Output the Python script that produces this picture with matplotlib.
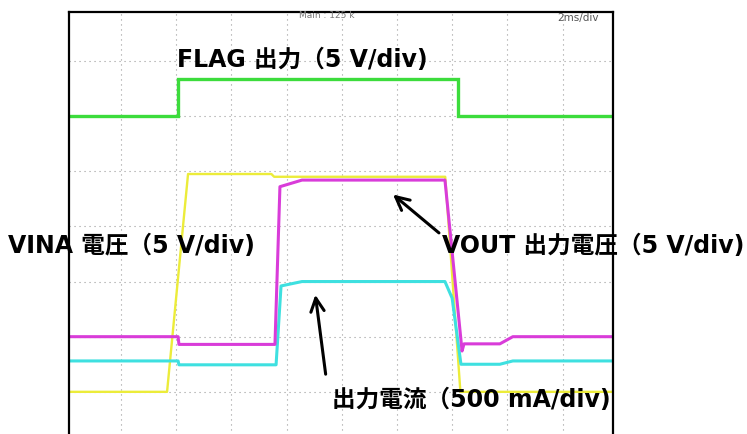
import matplotlib
matplotlib.use('Agg')
import matplotlib.pyplot as plt

# Scope traces: time in ms (2 ms/div), level in screen divisions
flag_t = [0.1, 4.07, 4.07, 14.2, 14.2, 19.9]
flag_v = [2.0, 2.0, 2.67, 2.67, 2.0, 2.0]

vina_t = [0.1, 3.67, 4.43, 7.45, 7.55, 13.75, 14.3, 19.9]
vina_v = [-3.0, -3.0, 0.95, 0.95, 0.9, 0.9, -3.0, -3.0]

vout_t = [0.1, 4.07, 4.1, 7.58, 7.76, 8.56, 13.74, 14.36, 14.43, 15.73, 16.2, 19.9]
vout_v = [-2.0, -2.0, -2.14, -2.14, 0.72, 0.84, 0.84, -2.26, -2.13, -2.13, -2.0, -2.0]

iout_t = [0.1, 4.07, 4.1, 7.62, 7.8, 8.56, 13.74, 14.0, 14.32, 15.73, 16.2, 19.9]
iout_v = [-2.44, -2.44, -2.51, -2.51, -1.08, -1.0, -1.0, -1.3, -2.5, -2.5, -2.44, -2.44]

labels = {
    'flag': 'FLAG 出力（5 V/div)',
    'vina': 'VINA 電圧（5 V/div)',
    'vout': 'VOUT 出力電圧（5 V/div)',
    'iout': '出力電流（500 mA/div)',
}

fig = plt.figure(figsize=(7.47, 4.35), dpi=100)
ax = fig.add_axes([69 / 747, 1 - 459 / 435, 544 / 747, 446 / 435])
ax.set_xlim(0.116, 19.83)
ax.set_ylim(-4.2, 3.888)

# dotted scope graticule
for gx in range(2, 20, 2):
    ax.axvline(gx, color='#9a9a9a', lw=0.8, ls=(0, (1, 3.5)), zorder=0)
for gy in range(-4, 4):
    ax.axhline(gy, color='#9a9a9a', lw=0.8, ls=(0, (1, 3.5)), zorder=0)

ax.plot(flag_t, flag_v, color='#3cdc3c', lw=2.4, solid_joinstyle='miter')
ax.plot(vina_t, vina_v, color='#ecec3a', lw=1.7)
ax.plot(iout_t, iout_v, color='#3ee0e0', lw=2.2)
ax.plot(vout_t, vout_v, color='#d93cd9', lw=2.2)

ax.set_xticks([])
ax.set_yticks([])
for side in ['left', 'top', 'right', 'bottom']:
    ax.spines[side].set_linewidth(1.6)
    ax.spines[side].set_color('black')

fnt = dict(fontsize=17, fontweight='bold', color='black',
           family=['DejaVu Sans', 'Noto Sans CJK JP'], va='center', ha='left')
ax.text(4.03, 3.04, labels['flag'], **fnt)
ax.text(-2.09, -0.33, labels['vina'], **fnt)
ax.text(13.64, -0.33, labels['vout'], **fnt)
ax.text(9.64, -3.13, labels['iout'], **fnt)

ax.text(9.46, 3.84, 'Main : 125 k', fontsize=6.5, color='#777777', ha='center', va='center')
ax.text(19.3, 3.8, '2ms/div', fontsize=7.5, color='#555555', ha='right', va='center')

arrow = dict(arrowstyle='->', color='black', lw=2.2, mutation_scale=24)
ax.annotate('', xy=(11.78, 0.61), xytext=(13.6, -0.15), arrowprops=arrow)
ax.annotate('', xy=(9.03, -1.19), xytext=(9.43, -2.73), arrowprops=arrow)

fig.savefig('out.png', dpi=100)
